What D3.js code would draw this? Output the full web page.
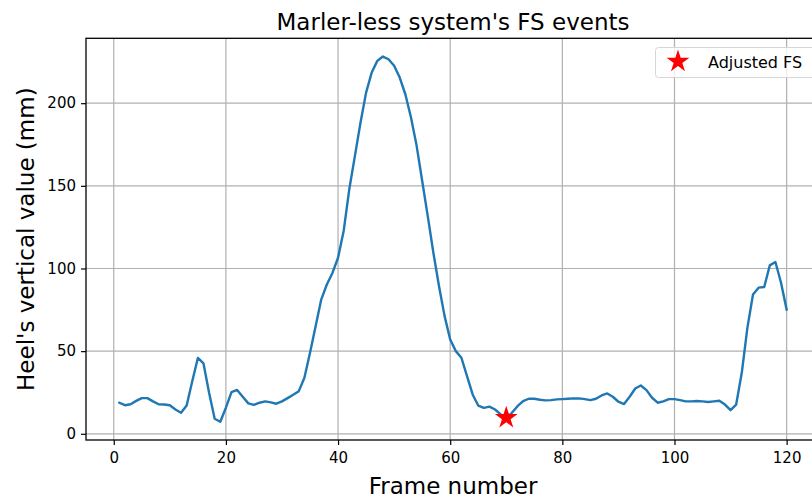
<!DOCTYPE html>
<html>
<head>
<meta charset="utf-8">
<script src="https://cdn.jsdelivr.net/npm/d3@7"></script>
<style>
  html, body { margin: 0; padding: 0; background: #fff; }
  svg { display: block; font-family: "DejaVu Sans", sans-serif; }
</style>
</head>
<body>
<svg id="chart" width="812" height="498"></svg>
<script>
// Heel vertical position per frame (mm)
const frames = d3.range(1, 121);
const heelValues = [
  18.8, 17.3, 17.9, 19.9, 21.6, 21.6, 19.6, 17.9, 17.7, 17.3,
  14.7, 12.7, 17.1, 31.8, 45.9, 42.6, 24.8, 9.1, 7.3, 15.8,
  25.2, 26.5, 22.4, 18.4, 17.5, 18.8, 19.6, 19.0, 18.2, 19.6,
  21.6, 23.6, 25.8, 33.9, 49.0, 65.1, 81.2, 90.3, 97.3, 106.5,
  122.7, 147.9, 168.0, 188.2, 206.4, 218.5, 225.6, 228.2, 226.6, 222.6,
  215.5, 205.4, 191.5, 174.5, 153.1, 131.7, 109.5, 89.4, 71.2, 57.0,
  50.0, 46.0, 34.9, 23.8, 17.1, 15.7, 16.4, 14.7, 11.7, 9.7,
  12.7, 16.7, 19.8, 21.2, 21.2, 20.6, 20.2, 20.4, 20.8, 21.0,
  21.2, 21.4, 21.4, 21.0, 20.4, 21.2, 23.2, 24.4, 22.4, 19.4,
  18.0, 22.4, 27.4, 29.2, 26.4, 21.8, 18.8, 19.6, 21.0, 21.0,
  20.4, 19.6, 19.6, 19.8, 19.6, 19.2, 19.6, 20.0, 17.7, 14.3,
  17.7, 36.9, 64.1, 84.3, 88.4, 88.8, 101.9, 103.9, 91.4, 75.2
];
// Adjusted foot-strike event
const fsFrames = [70];
const fsValues = [9.7];

const xTicks = [0, 20, 40, 60, 80, 100, 120];
const yTicks = [0, 50, 100, 150, 200];

const titleText = "Marler-less system's FS events";
const xLabel = "Frame number";
const yLabel = "Heel's vertical value (mm)";
const legendLabel = "Adjusted FS";

const svg = d3.select("#chart");
const plot = { left: 86, top: 38.3, right: 820, bottom: 440 };

const x = d3.scaleLinear().domain([-4.95, 125.95]).range([plot.left, plot.right]);
const y = d3.scaleLinear().domain([-3.75, 239.25]).range([plot.bottom, plot.top]);

svg.append("defs").append("clipPath").attr("id", "plotclip")
  .append("rect")
  .attr("x", plot.left).attr("y", plot.top)
  .attr("width", plot.right - plot.left).attr("height", plot.bottom - plot.top);

// Grid lines
const grid = svg.append("g").attr("stroke", "#b0b0b0").attr("stroke-width", 1.2);
grid.selectAll(".gx").data(xTicks).join("line")
  .attr("x1", d => x(d)).attr("x2", d => x(d))
  .attr("y1", plot.top).attr("y2", plot.bottom);
grid.selectAll(".gy").data(yTicks).join("line")
  .attr("x1", plot.left).attr("x2", plot.right)
  .attr("y1", d => y(d)).attr("y2", d => y(d));

// Heel trajectory
const line = d3.line().x((d, i) => x(frames[i])).y(d => y(d));
svg.append("path")
  .datum(heelValues)
  .attr("clip-path", "url(#plotclip)")
  .attr("fill", "none")
  .attr("stroke", "#1f77b4")
  .attr("stroke-width", 2.4)
  .attr("stroke-linejoin", "round")
  .attr("stroke-linecap", "square")
  .attr("d", line);

// Star markers
const star = d3.symbol().type(d3.symbolStar).size(160);
svg.selectAll(".fs").data(fsFrames).join("path")
  .attr("transform", (d, i) => `translate(${x(d)},${y(fsValues[i])})`)
  .attr("d", star)
  .attr("fill", "#ff0000");

// Axes
const xAxis = d3.axisBottom(x).tickValues(xTicks).tickSize(5).tickPadding(7);
const yAxis = d3.axisLeft(y).tickValues(yTicks).tickSize(5).tickPadding(5);

const gx = svg.append("g").attr("transform", `translate(0,${plot.bottom})`).call(xAxis);
const gy = svg.append("g").attr("transform", `translate(${plot.left},0)`).call(yAxis);
[gx, gy].forEach(g => {
  g.select(".domain").remove();
  g.selectAll(".tick line").attr("stroke", "#000").attr("stroke-width", 1.2);
  g.selectAll(".tick text").attr("fill", "#000")
    .style("font-family", "DejaVu Sans").style("font-size", "15px");
});

// Spines
const spines = svg.append("g").attr("stroke", "#000").attr("stroke-width", 1.3).attr("fill", "none");
spines.append("rect")
  .attr("x", plot.left).attr("y", plot.top)
  .attr("width", plot.right - plot.left).attr("height", plot.bottom - plot.top);

// Title and labels
svg.append("text")
  .attr("x", (plot.left + plot.right) / 2).attr("y", 30)
  .attr("text-anchor", "middle")
  .style("font-size", "23px")
  .text(titleText);

svg.append("text")
  .attr("x", (plot.left + plot.right) / 2).attr("y", 494)
  .attr("text-anchor", "middle")
  .style("font-size", "23px")
  .text(xLabel);

svg.append("text")
  .attr("transform", `translate(34,${(plot.top + plot.bottom) / 2}) rotate(-90)`)
  .attr("text-anchor", "middle")
  .style("font-size", "23px")
  .text(yLabel);

// Legend
const legend = svg.append("g");
legend.append("rect")
  .attr("x", 655.5).attr("y", 47.5).attr("width", 170).attr("height", 30)
  .attr("rx", 3).attr("ry", 3)
  .attr("fill", "#fff").attr("fill-opacity", 0.8)
  .attr("stroke", "#d6d6d6").attr("stroke-width", 1);
legend.append("path")
  .attr("transform", "translate(678,61.5)")
  .attr("d", star)
  .attr("fill", "#ff0000");
legend.append("text")
  .attr("x", 708).attr("y", 67.5)
  .style("font-size", "16px")
  .text(legendLabel);
</script>
</body>
</html>
